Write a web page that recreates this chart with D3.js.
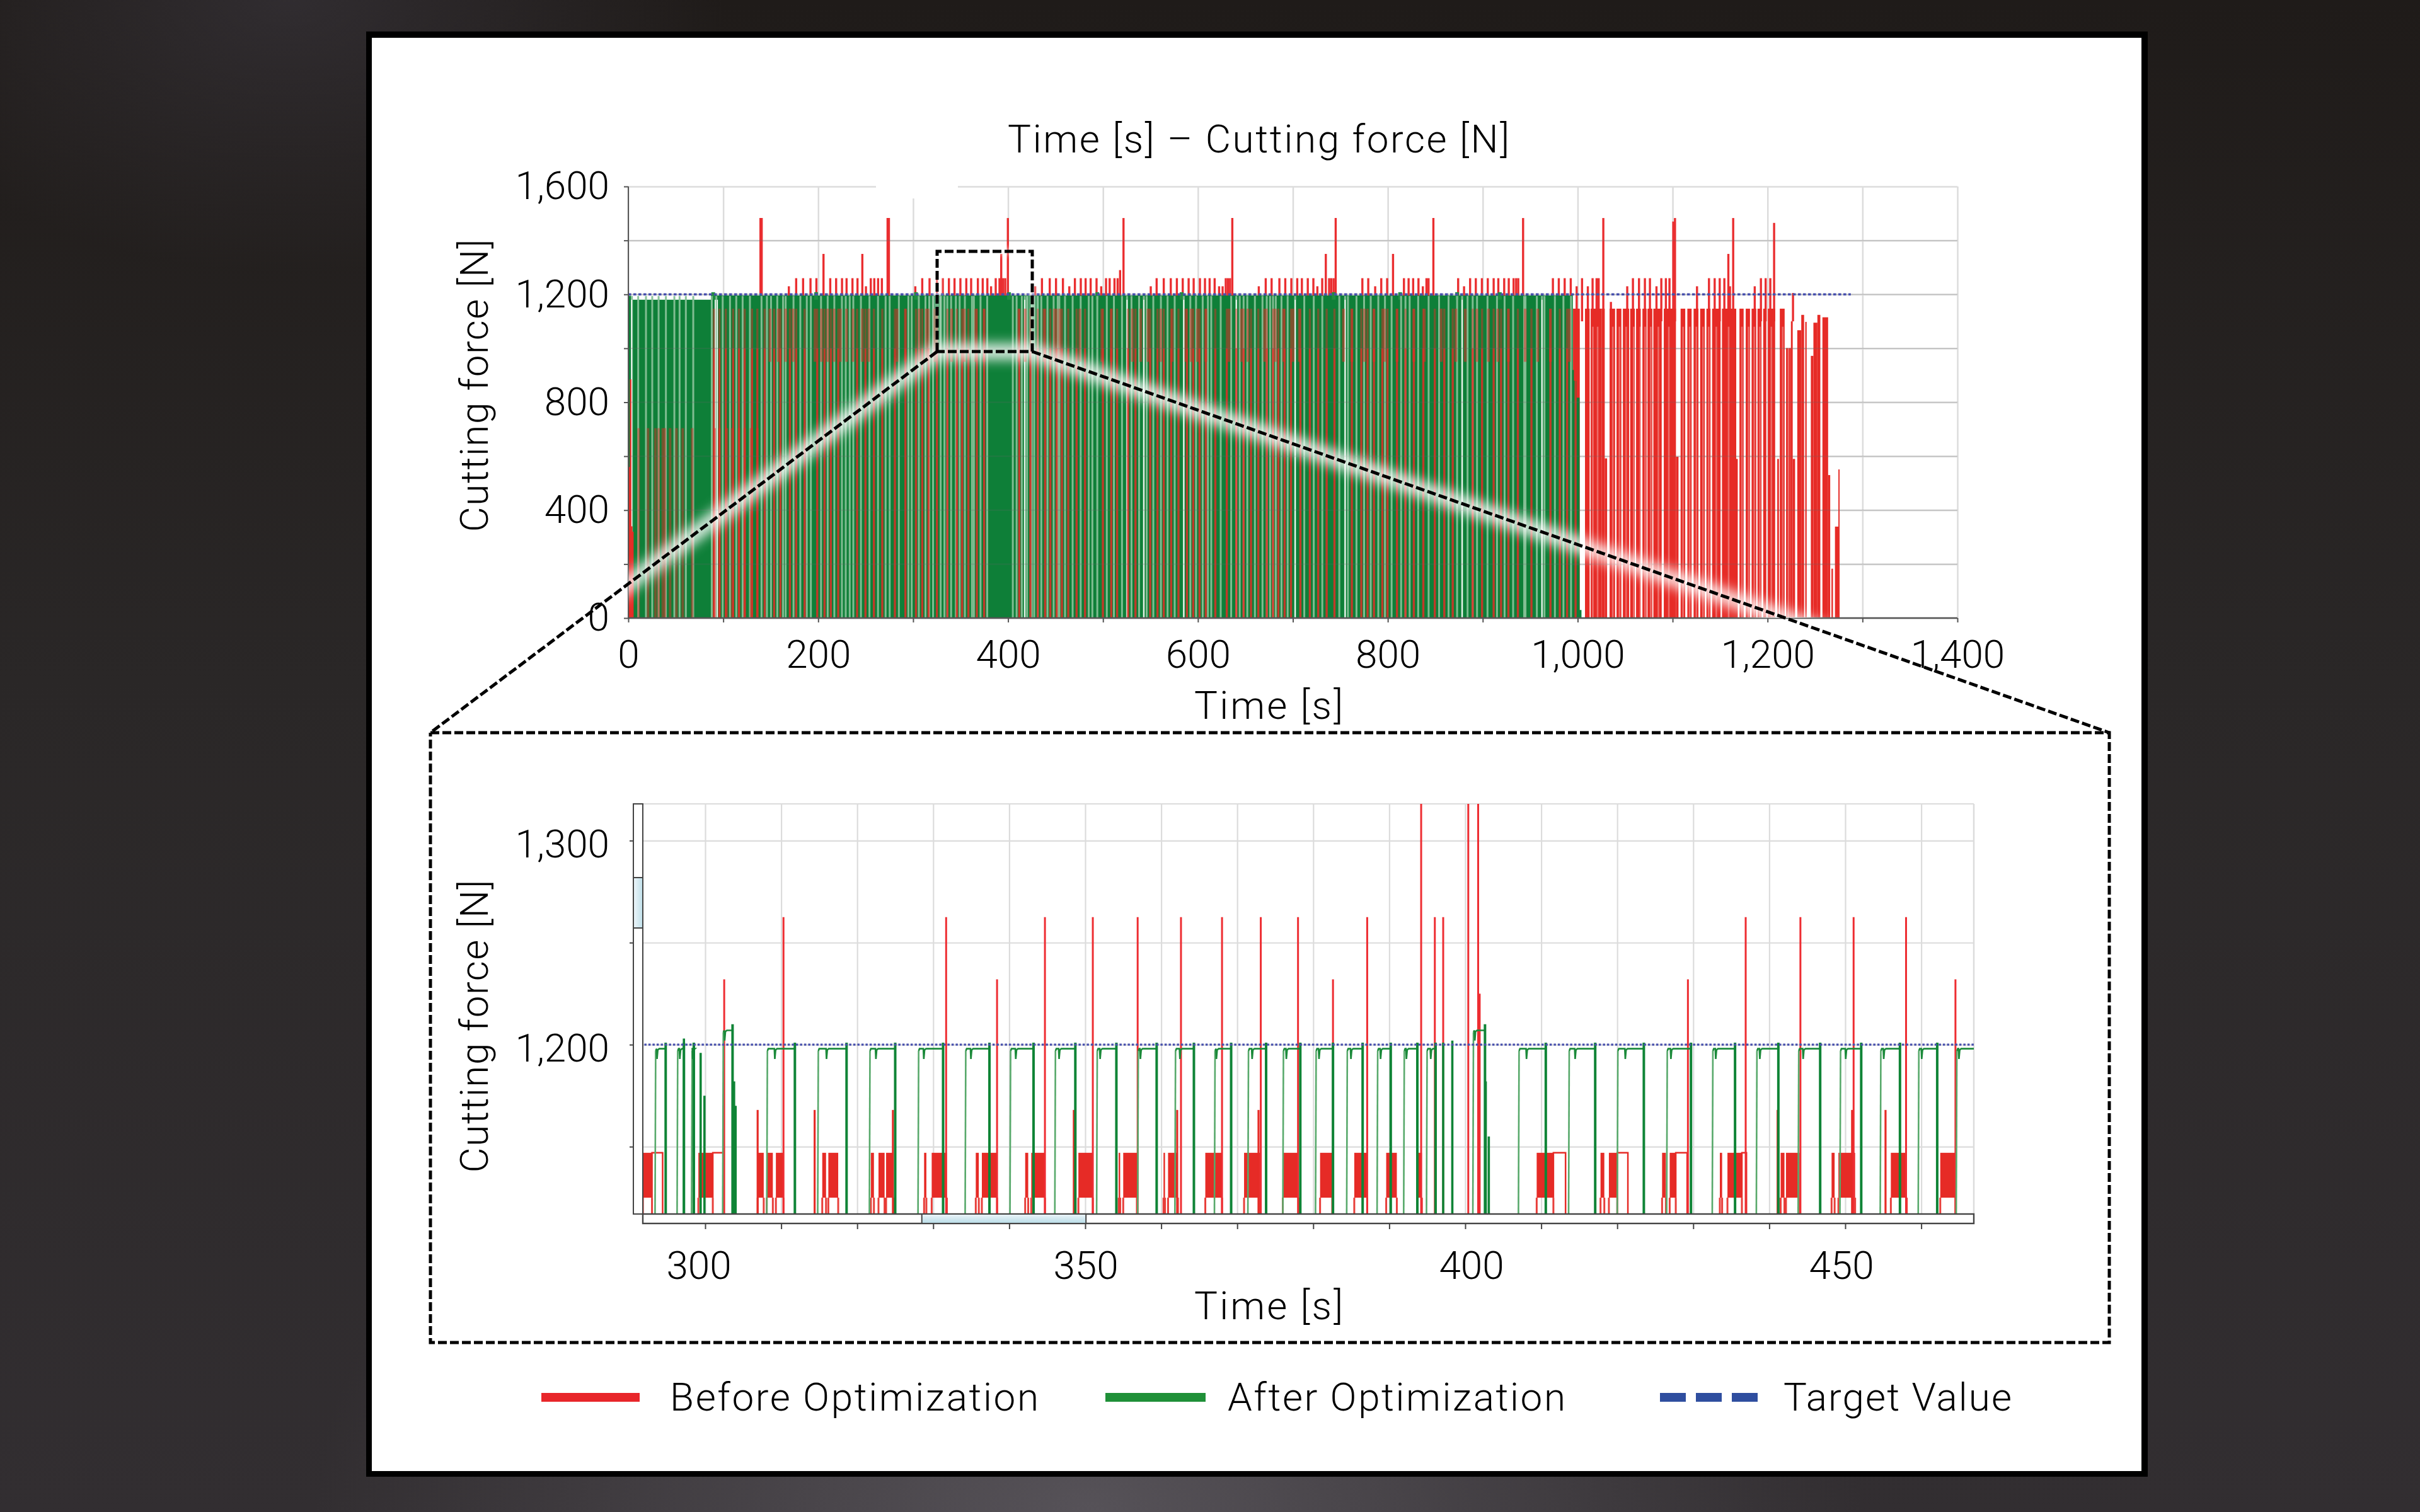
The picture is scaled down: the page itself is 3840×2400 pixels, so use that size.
<!DOCTYPE html>
<html><head><meta charset="utf-8">
<script src="https://cdn.jsdelivr.net/npm/d3@7"></script>
<style>html,body{margin:0;padding:0;background:#2a2728}svg{display:block}text{font-family:Roboto,"Liberation Sans",sans-serif;font-weight:300;fill:#000}</style>
</head><body><svg id="c" width="3840" height="2400"></svg>
<script>
// ---------- overview data (time in s, force in N) ----------
const overviewXTicks=[0,100,200,300,400,500,600,700,800,900,1000,1100,1200,1300,1400];
const overviewYTicks=[0,200,400,600,800,1000,1200,1400,1600];
const peaks1483=[139.2,140.5,273.1,274.5,399.8,521.6,636.2,745.1,848,942.5,1027,1102.5,1163.8];
const peaks1350=[205.6,246.5,392.8,734.7,805.5,1158.7];
const peaks1260=[176.8,184.1,191.9,198.1,212.7,218.9,225.1,229.9,236.1,241.4,255.4,259.1,263.1,267.1,309.6,317.3,325.1,331.3,337.7,343.6,349.8,356,361.1,368.2,373.3,378.2,387,391,394.8,397,435.7,443.9,450.5,457.8,470.4,476.6,481.7,487,493.2,503.2,507,512.1,515.4,556.5,564,571.4,577.8,584,590.2,595.5,602.1,607.4,612.3,617.6,629.3,631.5,633.8,671.4,677.6,685.8,692,698.4,704.6,709.5,715.7,721.6,730.9,738.2,740.4,742.9,773.2,779.4,793.1,799.3,817,821.9,826.7,832.3,840.7,842.9,874.1,886.7,892.7,899.1,905.3,911.5,916.4,922.6,927.4,932.5,935.2,937.4,973.9,980.1,986.3,992.7,1004.6,1015.7,1019.9,1022.1,1058.2,1064.6,1070.8,1076.1,1088.1,1092.9,1096.7,1138.3,1144.3,1149.6,1154.5,1193,1198,1202.9];
const peaks1230=[169.1,250.3,302.3,382.1,428.6,464.5,498.1,550.3,622.3,626,664.1,725.8,786.7,836.9,880.3,998.9,1010.7,1052.2,1083,1125.7,1160.4,1186.5];
const peaksOtherT=[518,1100.7,1206.9,1226.8,1035];
const peaksOtherF=[1290,1470,1465,1205,1172];
const redBarStart=[995.1,1007.7,1013.7,1025.4,1028.5,1033.6,1040.9,1047.6,1055.3,1061.5,1068.2,1073.5,1079.7,1090.7,1101.3,1103.5,1108.4,1115.5,1122.1,1129,1135.6,1141.6,1152,1167,1170.4,1177,1183.2,1189.4,1195.4,1200.3,1210.2,1212.9,1219.5,1224.6,1226.5,1231.3,1235.5,1239.7,1245.6,1248.3,1252.5,1257.8,1263.8,1267.3,1271,1274.6];
const redBarEnd=[1002.2,1012.6,1025.4,1028.5,1031,1039.4,1046,1054.2,1060.2,1066.4,1072.6,1078.6,1088.5,1101.3,1103.5,1106.2,1113.3,1120,1127.2,1133.9,1139.9,1150.5,1167,1168.6,1174.8,1181.5,1188.1,1193.6,1198.7,1208,1212,1218,1224.6,1226.5,1229,1235.5,1238.5,1241.2,1248.3,1252.5,1255.6,1263.8,1266,1268.9,1275,1275.9];
const redBarTop=[1147,1147,1147,1147,592,1147,1147,1147,1147,1147,1147,1147,1147,1147,1147,598,1147,1147,1147,1147,1147,1147,1147,590,1147,1147,1147,1147,1147,1147,590,1147,1001,1100,590,1067,1124,1098,972,1095,1124,1115,530,183,339,551];
const redPinkT=[1004.6,1016,1021,1037,1044,1051,1059,1066,1071,1077,1085,1096,1111,1118,1125,1132,1138,1146,1159,1173,1180,1186,1192,1204,1216,1222];
const afterLevelT=[0,3,87,994.9,996,999,1002,1004,1005];
const afterLevelF=[1195,1180,1196,920,880,817,30,0,0];
const afterBumpT=[89.4,197.8,303,401,494,582.8,743,813,873,918];
const afterPaleT=[3.8,10.4,18.6,25.2,31.9,39.6,48.5,54,60.6,68.4,87.9,92.7,99.4,107.1,113.7,120.4,128.1,140.3,146,150.3,156.9,163,165.7,174,181.2,188,192.3,203,210,217,225,229,233.2,237,245,254,263,271,275.3,285,295,298.5,306,313,317,321,329,333,336,340,345,349,354.5,362,364,371,378,405,409,414.5,417.6,420,425,427.5,431.3,435,441.5,448,452.3,454,460,468,476.5,485,488.8,494,504,511.5,520,525.3,530,538,543,546,553,561,568,575.5,585.1,592,598,605,610.5,614,624,635,640.4,644,648.1,652,660,668,672.5,676,679.1,682,688,694.5,702.4,712,722,731,748.9,755,758,767,775,782,790,797,804,814,818.6,823,832,843,854,864,873,878.3,884,889.4,894,905,915,923,932,943.6,945,957,962.4,965,976,985,993];
const afterWhiteT=[3.5,91.5,93.8,525.3,543,702.4,755,640.4,585.1,417.6,878.3,962.4];
const beforeStripeT=[90.1,96,102.7,110.4,116.6,122.6,130.3,135.9,143.6,153.6,160.2,170.2,176.8,185.7,199,206.7,213.3,221.1,241,249.8,258.7,267.5,280.8,291.9,303,309.6,316.2,325.1,336.1,346.1,351.6,358.2,367.1,374.8,411.8,423.5,431.3,439,444.5,451.2,456.7,463.4,472.2,481.1,499.9,508.7,514.9,526.4,534.2,549.7,557.4,564,571.8,579.5,588.4,595,601.7,608.3,618.3,630.4,640.4,648.1,655.9,663.6,672.5,679.1,684.7,691.3,698,707.9,717.9,726.7,735.6,743.8,762.1,772.1,778.7,785.4,794.2,799.7,809.7,818.6,827.4,837.4,849.5,859.5,868.4,889.4,899.3,911.5,919.3,927,937,951.3,971.3,981.2,988.9,997.8];
const beforeBrownT=[149.2,158,165.7,173.5,196.7,203.4,210,216.7,223.3,229.9,236.6,246.5,253.2,283,291.9,306.3,314,322.9,340.5,353.8,366,374.8,411.4,418,437.9,449,454.5,475.5,498.8,508.7,530.9,539.7,547.5,560.7,572.9,587.3,592.8,599.5,608.3,632.7,645.9,652.6,670.3,681.4,690.2,700.2,706.8,753.3,762.1,775.4,785.4,796.4,809.7,827.4,838.5,856.2,871.7,881.6,893.8,906,915.9,927,944.7,958,971.3,991.2];
const beforeLowT=[10.8,20.8,28.6,31.9,36.3,38.5,44,50.7,57.3,67.3,91,96,103.8,109.3,116.6,122.6,129.2,135.9];
const leftEdgeT=[1.5,2.4,3.6,4.8];
const leftEdgeF=[560,885,340,320];
const targetEndOverview=1287.7;

// ---------- detail data ----------
const detailXGrid=[300,310,320,330,340,350,360,370,380,390,400,410,420,430,440,450,460];
const detailXLabels=[300,350,400,450];
const detailYTicks=[1150,1200,1250,1300];
const detailYLabels=[1200,1300];
const afterRise=[293.4,296.3,298.2,302.3,308.1,314.8,321.6,328,334.2,340.1,346,351.5,356.9,361.8,367,371.4,376,380.3,384.4,388.4,391.9,394.9,401,407,413.6,420,426.5,432.5,438.3,443.8,449.3,454.6,459.6,464.6];
const afterNotch=[293.6,296.6,298.3,302.5,309.1,315.9,322.4,328.7,334.9,340.8,346.5,351.9,357.2,362.4,367.2,371.9,376.4,380.7,384.9,388.8,392.2,395.4,401.2,408,414.4,421,427,432.9,438.7,444.4,450,455,460,464.9];
const afterFall=[294.8,297.2,298.5,303.6,311.8,318.6,325,331.3,337.4,343.2,348.7,354.1,359.4,364.3,369.2,373.8,378.3,382.6,386.5,390.2,393.7,396.1,402.6,410.6,417.1,423.5,429.7,435.5,441.2,446.7,452.1,457.2,462.1,470];
const afterPlateau=[1198,1198,1198,1207,1198,1198,1198,1198,1198,1198,1198,1198,1198,1198,1198,1198,1198,1198,1198,1198,1198,1198,1207,1198,1198,1198,1198,1198,1198,1198,1198,1198,1198,1198];
const afterExtraT=[297.2,298.5,299.4,299.9,303.8,304,397.1,398.3,402.7,403.1];
const afterExtraF=[1203,1201,1196,1175,1182,1170,1201,1202,1182,1155];
const beforeSolidStart=[291.8,299.1,306.9,308.1,309.3,315.4,316.2,321.8,322.8,323.8,328.8,329.8,335.6,336.4,342.1,342.9,349.1,354.4,355,360.3,360.9,365.8,370.9,376,380.9,385.4,389.6,393.7,409.4,417.8,418.9,425.9,426.9,433.5,434.5,441.5,442.2,448.2,449.1,456,462.5];
const beforeSolidEnd=[293,301,307.7,308.9,310.3,315.9,317.5,322.2,323.6,324.8,329.1,331.8,336,338.4,342.5,344.7,351,354.6,356.8,360.5,362.2,368,373,378.1,382.5,387.1,391,394.3,411.6,418.3,420,426.4,427.7,433.8,436.4,442,444,448.6,451.3,458.1,464.5];
const beforeOutlineStart=[293,301,411.6,420,427.7,436.4];
const beforeOutlineEnd=[294.4,302.4,413.2,421.4,429.2,437];
const spikeT=[302.5,310.3,331.7,338.4,344.7,351,356.9,362.6,368,373.1,378,382.6,387.1,394.2,396,397.1,400.4,401.7,401.9,429.3,436.9,444.1,451.1,458,464.5];
const spikeF=[1232,1262.5,1262.5,1232,1262.5,1262.5,1262.5,1262.5,1262.5,1262.5,1262.5,1232,1262.5,1330,1262.5,1262.5,1330,1330,1225,1232,1262.5,1262.5,1262.5,1262.5,1232];
const midSpikeT=[306.9,314.4,324.7,348.5,362.1,372.8,441.1,450.9,455.3];
const midSpikeLevel=1168;
const targetForce=1200;

// ---------- layout ----------
const svg=d3.select('#c');
const ov={l:997,r:3106,t:296,b:981}, low={l:1020,r:3132,t:1276,b:1927,strip:1942,vl:1005};
const x1=d3.scaleLinear().domain([0,1400]).range([ov.l,ov.r]);
const y1=d3.scaleLinear().domain([0,1600]).range([ov.b,ov.t]);
const x2=d3.scaleLinear().domain([300,450]).range([1119,2928]);
const y2=d3.scaleLinear().domain([1117,1318]).range([low.b,low.t]);
const colR='#e62b26',colG='#0e7f38',colP='#86c096',colB='#4750ad',colGrid='#dcdcdc';
const defs=svg.append('defs');
const bgG=defs.append('linearGradient').attr('id','bg').attr('x1',0).attr('x2',0).attr('y1',0).attr('y2',1);
[[0,'#1f1b19'],[.45,'#2a2727'],[1,'#322e31']].forEach(s=>bgG.append('stop').attr('offset',s[0]).attr('stop-color',s[1]));
const rg=defs.append('radialGradient').attr('id','bg2').attr('cx',.45).attr('cy',1).attr('r',.32);
rg.append('stop').attr('offset',0).attr('stop-color','#565258').attr('stop-opacity',1);
rg.append('stop').attr('offset',1).attr('stop-color','#565258').attr('stop-opacity',0);
const rg3=defs.append('radialGradient').attr('id','bg3').attr('cx',.12).attr('cy',0).attr('r',.18);
rg3.append('stop').attr('offset',0).attr('stop-color','#38343a').attr('stop-opacity',.7);
rg3.append('stop').attr('offset',1).attr('stop-color','#38343a').attr('stop-opacity',0);
const bl=defs.append('linearGradient').attr('id','blueH').attr('x1',0).attr('x2',0).attr('y1',0).attr('y2',1);
bl.append('stop').attr('offset',0).attr('stop-color','#eef6fa');bl.append('stop').attr('offset',1).attr('stop-color','#b7dbe6');
const bv=defs.append('linearGradient').attr('id','blueV').attr('x1',0).attr('x2',1).attr('y1',0).attr('y2',0);
bv.append('stop').attr('offset',0).attr('stop-color','#eef6fa');bv.append('stop').attr('offset',1).attr('stop-color','#bfe0ea');
const mkBlur=(id,s)=>defs.append('filter').attr('id',id).attr('filterUnits','userSpaceOnUse').attr('x',0).attr('y',0).attr('width',3840).attr('height',2400).append('feGaussianBlur').attr('stdDeviation',s);
mkBlur('g1',10);mkBlur('g2',5);
defs.append('clipPath').attr('id','clipTop').append('rect').attr('x',ov.l).attr('y',ov.t).attr('width',ov.r-ov.l).attr('height',ov.b-ov.t);
defs.append('clipPath').attr('id','clipLow').append('rect').attr('x',low.l).attr('y',low.t).attr('width',low.r-low.l).attr('height',low.b-low.t);

svg.append('rect').attr('width',3840).attr('height',2400).attr('fill','url(#bg)');
svg.append('rect').attr('width',3840).attr('height',2400).attr('fill','url(#bg2)');
svg.append('rect').attr('width',3840).attr('height',2400).attr('fill','url(#bg3)');
svg.append('rect').attr('x',581).attr('y',50).attr('width',2827).attr('height',2294).attr('fill','#000');
svg.append('rect').attr('x',590).attr('y',60).attr('width',2808).attr('height',2275).attr('fill','#fff');

// ---------- overview ----------
const g1=svg.append('g');
const gridX=g1.append('g').attr('transform',`translate(0,${ov.b})`).call(d3.axisBottom(x1).tickValues(overviewXTicks).tickSize(-(ov.b-ov.t)).tickFormat(''));
gridX.select('.domain').remove();gridX.selectAll('line').attr('stroke',colGrid).attr('stroke-width',2.5);
const gridY=g1.append('g').attr('transform',`translate(${ov.l},0)`).call(d3.axisRight(y1).tickValues(overviewYTicks).tickSize(ov.r-ov.l).tickFormat(''));
gridY.select('.domain').remove();gridY.selectAll('line').attr('stroke',colGrid).attr('stroke-width',2.5);
g1.append('rect').attr('x',1390).attr('y',285).attr('width',130).attr('height',30).attr('fill','#fff');

const plot=g1.append('g').attr('clip-path','url(#clipTop)');
const peakTable=[...peaks1483.map(t=>[t,1483]),...peaks1350.map(t=>[t,1350]),...peaks1260.map(t=>[t,1260]),...peaks1230.map(t=>[t,1230]),...peaksOtherT.map((t,i)=>[t,peaksOtherF[i]])];
plot.append('g').selectAll('line').data(peakTable).join('line')
 .attr('x1',d=>x1(d[0])).attr('x2',d=>x1(d[0])).attr('y1',y1(1100)).attr('y2',d=>y1(d[1]))
 .attr('stroke','#ea2e30').attr('stroke-width',3.4);
plot.append('g').selectAll('rect').data(redBarStart.map((s,i)=>[s,redBarEnd[i],redBarTop[i]])).join('rect')
 .attr('x',d=>x1(d[0])).attr('width',d=>Math.max(1.5,x1(d[1])-x1(d[0]))).attr('y',d=>y1(d[2])).attr('height',d=>y1(0)-y1(d[2]))
 .attr('fill',colR);
plot.append('g').selectAll('rect').data(redPinkT).join('rect')
 .attr('x',d=>x1(d)-1.3).attr('width',2.6).attr('y',y1(1080)).attr('height',y1(0)-y1(1080)).attr('fill','#fff').attr('opacity',.3);
const greenArea=d3.area().x((d,i)=>x1(afterLevelT[i])).y0(y1(0)).y1(d=>y1(d)).curve(d3.curveStepAfter);
plot.append('path').attr('d',greenArea(afterLevelF)).attr('fill',colG);
plot.append('g').selectAll('rect').data(afterBumpT).join('rect')
 .attr('x',d=>x1(d)-3).attr('width',6).attr('y',y1(1208)).attr('height',y1(1180)-y1(1208)).attr('fill','#1f8e3f');
plot.append('g').selectAll('rect').data(afterPaleT).join('rect')
 .attr('x',d=>x1(d)-1.5).attr('width',3).attr('y',y1(1194)).attr('height',y1(0)-y1(1194)).attr('fill',colP).attr('opacity',.95);
plot.append('g').selectAll('rect').data(afterWhiteT).join('rect')
 .attr('x',d=>x1(d)-.8).attr('width',1.6).attr('y',y1(1180)).attr('height',y1(0)-y1(1180)).attr('fill','#fff');
plot.append('g').selectAll('rect').data(beforeBrownT).join('rect')
 .attr('x',d=>x1(d)-2.2).attr('width',4.4).attr('y',y1(1147)).attr('height',y1(950)-y1(1147)).attr('fill',colR).attr('opacity',.5);
plot.append('g').selectAll('rect').data(beforeLowT).join('rect')
 .attr('x',d=>x1(d)-2).attr('width',4).attr('y',y1(704)).attr('height',y1(0)-y1(704)).attr('fill',colR).attr('opacity',.45);
plot.append('g').selectAll('rect').data(beforeStripeT).join('rect')
 .attr('x',d=>x1(d)-1.7).attr('width',3.4).attr('y',y1(1147)).attr('height',y1(1000)-y1(1147)).attr('fill',colR).attr('opacity',.45);
plot.append('g').selectAll('rect').data(beforeStripeT).join('rect')
 .attr('x',d=>x1(d)-1.7).attr('width',3.4).attr('y',y1(1000)).attr('height',y1(0)-y1(1000)).attr('fill',colR).attr('opacity',.82);
plot.append('g').selectAll('rect').data(leftEdgeT).join('rect')
 .attr('x',d=>x1(d)-1.2).attr('width',2.4).attr('y',(d,i)=>y1(leftEdgeF[i])).attr('height',(d,i)=>y1(0)-y1(leftEdgeF[i])).attr('fill',colR);
const faint=g1.append('g').attr('clip-path','url(#clipTop)');
faint.selectAll('line').data(overviewYTicks.slice(1,-1)).join('line').attr('x1',ov.l).attr('x2',ov.r).attr('y1',d=>y1(d)).attr('y2',d=>y1(d)).attr('stroke','#666').attr('stroke-width',2).attr('opacity',.22);
g1.append('line').attr('x1',x1(0)).attr('x2',x1(targetEndOverview)).attr('y1',y1(targetForce)).attr('y2',y1(targetForce)).attr('stroke',colB).attr('stroke-width',3.5).attr('stroke-dasharray','4.5 3.5');
// axes
g1.append('line').attr('x1',ov.l).attr('x2',ov.l).attr('y1',ov.t).attr('y2',ov.b).attr('stroke','#555').attr('stroke-width',2);
g1.append('line').attr('x1',ov.l).attr('x2',ov.r).attr('y1',ov.b).attr('y2',ov.b).attr('stroke','#555').attr('stroke-width',2.5);

// glow along the magnifier lines
const P={a:[683,1163],b:[1487,558],c:[1638,558],d:[3347,1163],bt:399};
const glow=svg.append('g').attr('clip-path','url(#clipTop)');
glow.append('path').attr('d',d3.line()([P.a,P.b,P.c,P.d])).attr('fill','none').attr('stroke','#fff').attr('stroke-width',24).attr('filter','url(#g1)').attr('opacity',.92);
glow.append('path').attr('d',d3.line()([P.b,[P.b[0],P.bt],[P.c[0],P.bt],P.c])).attr('fill','none').attr('stroke','#fff').attr('stroke-width',8).attr('filter','url(#g2)').attr('opacity',.65);

// overview text
const yAxis1=svg.append('g').attr('transform',`translate(${ov.l},0)`).call(d3.axisLeft(y1).tickValues(overviewYTicks).tickSize(7).tickPadding(23).tickFormat(d=>d%400===0?d3.format(',')(d):''));
yAxis1.select('.domain').remove();yAxis1.selectAll('line').attr('stroke','#555').attr('stroke-width',2);
yAxis1.selectAll('text').attr('font-size',62).attr('font-family','Roboto').attr('font-weight',300).attr('fill','#000');
const xAxis1=svg.append('g').attr('transform',`translate(0,${ov.b})`).call(d3.axisBottom(x1).tickValues(overviewXTicks).tickSize(7).tickPadding(28).tickFormat(d=>d%200===0?d3.format(',')(d):''));
xAxis1.select('.domain').remove();xAxis1.selectAll('line').attr('stroke','#555').attr('stroke-width',2);
xAxis1.selectAll('text').attr('font-size',62).attr('font-family','Roboto').attr('font-weight',300).attr('fill','#000');
const label=(t,x,y,rot,len)=>{const e=svg.append('text').text(t).attr('font-size',62).attr('text-anchor','middle').attr('dominant-baseline','central').attr('transform',`translate(${x},${y})${rot?' rotate(-90)':''}`);if(len)e.attr('textLength',len).attr('lengthAdjust','spacing');return e;};
label('Time [s] – Cutting force [N]',1997,220,false,796);
label('Cutting force [N]',752,612,true,465);
label('Time [s]',2013,1119,false,236);

// ---------- detail ----------
const g2=svg.append('g');
const gridX2=g2.append('g').attr('transform',`translate(0,${low.b})`).call(d3.axisBottom(x2).tickValues(detailXGrid).tickSize(-(low.b-low.t)).tickFormat(''));
gridX2.select('.domain').remove();gridX2.selectAll('line').attr('stroke',colGrid).attr('stroke-width',2.2);
const gridY2=g2.append('g').attr('transform',`translate(${low.l},0)`).call(d3.axisRight(y2).tickValues(detailYTicks).tickSize(low.r-low.l).tickFormat(''));
gridY2.select('.domain').remove();gridY2.selectAll('line').attr('stroke',colGrid).attr('stroke-width',2.2);
g2.append('line').attr('x1',low.l).attr('x2',low.r).attr('y1',low.t).attr('y2',low.t).attr('stroke',colGrid).attr('stroke-width',2.2);
g2.append('line').attr('x1',low.r).attr('x2',low.r).attr('y1',low.t).attr('y2',low.b).attr('stroke',colGrid).attr('stroke-width',2.5);
const p2=g2.append('g').attr('clip-path','url(#clipLow)');
const vline=(sel,data,xf,y1f,y2f,c,w,o)=>sel.append('g').selectAll('line').data(data).join('line').attr('x1',xf).attr('x2',xf).attr('y1',y1f).attr('y2',y2f).attr('stroke',c).attr('stroke-width',w).attr('opacity',o||1);
// before optimisation
p2.append('g').selectAll('rect').data(beforeSolidStart.map((s,i)=>[s,beforeSolidEnd[i]])).join('rect')
 .attr('x',d=>x2(d[0])).attr('width',d=>x2(d[1])-x2(d[0])).attr('y',y2(1147)).attr('height',y2(1125)-y2(1147)).attr('fill',colR);
vline(p2,[...beforeSolidStart,...beforeSolidEnd],d=>x2(d),y2(1125),y2(1117),colR,3,.9);
const outline=d3.line().x(d=>x2(d[0])).y(d=>y2(d[1]));
p2.append('g').selectAll('path').data(beforeOutlineStart.map((s,i)=>[[s,1125],[s,1147],[beforeOutlineEnd[i],1147],[beforeOutlineEnd[i],1117]])).join('path')
 .attr('d',outline).attr('fill','none').attr('stroke',colR).attr('stroke-width',2.5);
vline(p2,midSpikeT,d=>x2(d),y2(midSpikeLevel),y2(1117),colR,3.2);
vline(p2,spikeT,d=>x2(d),(d,i)=>y2(spikeF[i]),y2(1117),'#ee2d32',3);
// after optimisation
const cyc=d3.line().x(d=>x2(d[0])).y(d=>y2(d[1]));
p2.append('g').selectAll('line').data(afterRise).join('line')
 .attr('x1',d=>x2(d)).attr('x2',d=>x2(d)+1).attr('y1',y2(1117)).attr('y2',(d,i)=>y2(afterPlateau[i]-1)).attr('stroke','#58a96b').attr('stroke-width',2.6);
p2.append('g').selectAll('path').data(afterRise.map((r,i)=>{const n=afterNotch[i],f=afterFall[i],v=afterPlateau[i];return [[r+.09,v-1],[r+.2,v],[n,v],[n+.06,v-5],[n+.16,v-.6],[n+.35,v],[f-.05,v]];})).join('path')
 .attr('d',cyc).attr('fill','none').attr('stroke','#1b8a3a').attr('stroke-width',2.6);
vline(p2,afterFall,d=>x2(d),(d,i)=>y2(afterPlateau[i]+3),y2(1117),'#0f8436',4);
vline(p2,afterExtraT,d=>x2(d),(d,i)=>y2(afterExtraF[i]),y2(1117),'#0f8436',3.6);
p2.append('line').attr('x1',x2(293.4)-30).attr('x2',low.r).attr('y1',y2(targetForce)).attr('y2',y2(targetForce)).attr('stroke',colB).attr('stroke-width',3.2).attr('stroke-dasharray','3.5 3');
// frame strips
g2.append('rect').attr('x',low.vl).attr('y',low.t).attr('width',low.l-low.vl).attr('height',low.b-low.t).attr('fill','#fff').attr('stroke','#444').attr('stroke-width',2);
g2.append('rect').attr('x',low.vl).attr('y',1393).attr('width',low.l-low.vl).attr('height',80).attr('fill','url(#blueV)').attr('stroke','#444').attr('stroke-width',2);
g2.append('rect').attr('x',low.l).attr('y',low.b).attr('width',low.r-low.l).attr('height',low.strip-low.b).attr('fill','#fff').attr('stroke','#444').attr('stroke-width',2.4);
g2.append('rect').attr('x',x2(328.5)).attr('y',low.b).attr('width',x2(350.1)-x2(328.5)).attr('height',low.strip-low.b).attr('fill','url(#blueH)').attr('stroke','#444').attr('stroke-width',2);
const xAxis2=svg.append('g').attr('transform',`translate(0,${low.strip})`).call(d3.axisBottom(x2).tickValues(detailXGrid).tickSize(9).tickPadding(0).tickFormat(''));
xAxis2.select('.domain').remove();xAxis2.selectAll('line').attr('stroke','#444').attr('stroke-width',2);
const yAxis2=svg.append('g').attr('transform',`translate(${low.vl},0)`).call(d3.axisLeft(y2).tickValues(detailYTicks).tickSize(6).tickPadding(32).tickFormat(d=>detailYLabels.includes(d)?d3.format(',')(d):''));
yAxis2.select('.domain').remove();yAxis2.selectAll('line').attr('stroke','#444').attr('stroke-width',2);
yAxis2.selectAll('text').attr('font-size',62).attr('font-family','Roboto').attr('font-weight',300).attr('fill','#000').attr('dy','.42em');
const labelShift={300:-10,350:1,400:10,450:-6};
detailXLabels.forEach(v=>svg.append('text').text(v).attr('font-size',62).attr('text-anchor','middle').attr('dominant-baseline','central').attr('x',x2(v)+labelShift[v]).attr('y',2008));
label('Cutting force [N]',752,1629,true,465);
label('Time [s]',2013,2072,false,236);

// ---------- magnifier dashes ----------
const dash=svg.append('g').attr('fill','none').attr('stroke','#000').attr('stroke-width',5).attr('stroke-dasharray','14 5');
dash.append('path').attr('d',d3.line()([P.b,[P.b[0],P.bt],[P.c[0],P.bt],P.c,P.b]));
dash.append('path').attr('d',d3.line()([P.b,P.a]));
dash.append('path').attr('d',d3.line()([P.c,P.d]));
dash.append('path').attr('d',d3.line()([P.a,P.d,[3347,2131],[683,2131],P.a]));

// ---------- legend ----------
const legendNames=['Before Optimization','After Optimization','Target Value'];
const legendColors=['#e8262a','#1f9038','#2f4e9f'];
const legendLine=[[859,1015],[1754,1913],[2634,2789]];
const legendText=[[1063,585],[1948,536],[2830,362]];
legendNames.forEach((n,i)=>{
 const l=svg.append('line').attr('x1',legendLine[i][0]).attr('x2',legendLine[i][1]).attr('y1',2218).attr('y2',2218).attr('stroke',legendColors[i]).attr('stroke-width',14);
 if(i===2)l.attr('stroke-dasharray','41 16');
 svg.append('text').text(n).attr('font-size',62).attr('x',legendText[i][0]).attr('y',2239).attr('textLength',legendText[i][1]).attr('lengthAdjust','spacing');
});
</script></body></html>
